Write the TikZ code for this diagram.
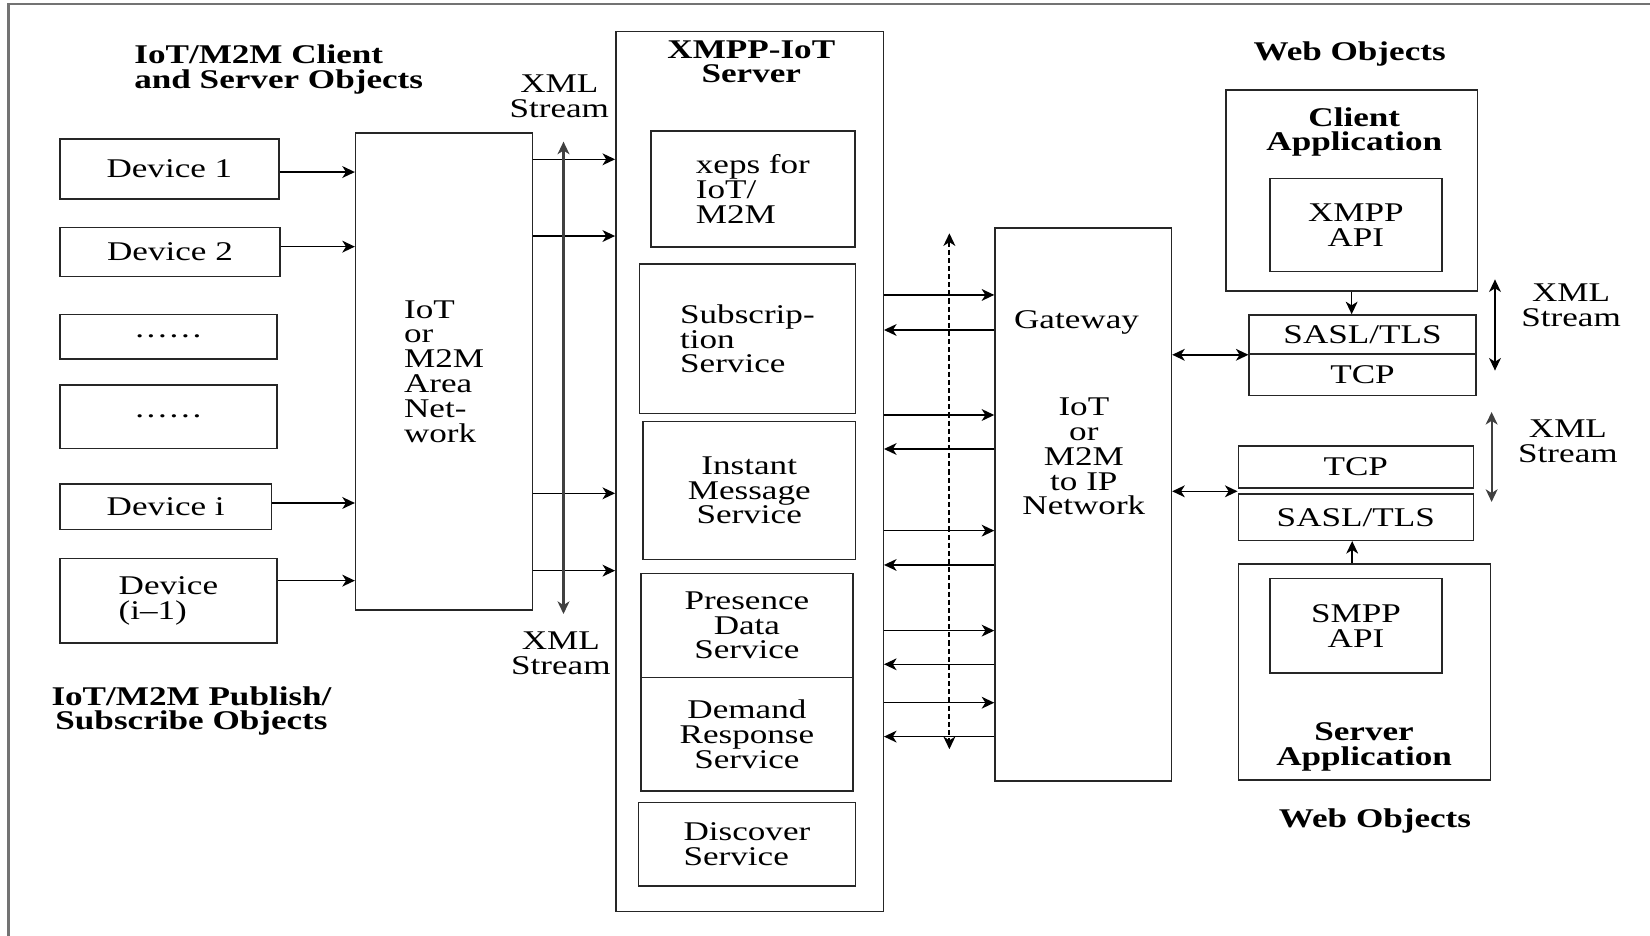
\documentclass[tikz,border=0pt]{standalone}
\usepackage{fontspec}
\setmainfont{Liberation Serif}[FakeStretch=1.3]
\usetikzlibrary{calc,arrows.meta}
\tikzstyle{box} = [rectangle, draw=black!85, inner sep=0pt, align=center, font=\fontsize{7.3}{6.7}\selectfont]
\tikzstyle{lbl} = [inner sep=0pt, align=center, font=\fontsize{7.3}{6.7}\selectfont]
\tikzstyle{head} = [inner sep=0pt, align=center, font=\fontsize{7.3}{6.7}\selectfont\bfseries]
\tikzstyle{arrow} = [->,>={Stealth[length=3.4pt,width=3.2pt,inset=1pt]}]
\tikzstyle{twoway} = [<->,>={Stealth[length=3.4pt,width=3.2pt,inset=1pt]}]
\newcommand{\sixdots}{.\kern.1em.\kern.1em.\kern.1em.\kern.1em.\kern.1em.}

\begin{document}
\begin{tikzpicture}[x=0.01cm, y=-0.01cm]
\useasboundingbox (0,0) rectangle (1568,889);
\draw [black!55, line width=0.6pt] (8,1000) -- (8,4) -- (1700,4);

% devices and area network
\node (hclient) [head, align=left, anchor=west] at (127,66) {IoT/M2M Client\\and Server Objects};
\node (hpubsub) [head] at (182,675.6) {IoT/M2M Publish/\\Subscribe Objects};
\node (dev1) [box, minimum width=2.08cm, minimum height=0.57cm] at (161,160.5) {Device 1};
\node (dev2) [box, minimum width=2.09cm, minimum height=0.47cm] at (161.5,239.5) {Device 2};
\node (dots1) [box, minimum width=2.06cm, minimum height=0.42cm] at (160,320) {\sixdots};
\node (dots2) [box, minimum width=2.06cm, minimum height=0.60cm] at (160,396) {\sixdots};
\node (devi) [box, minimum width=2.01cm, minimum height=0.43cm] at (157.5,481.5) {Device i};
\node (devim) [box, align=left, minimum width=2.06cm, minimum height=0.80cm] at (160,571) {Device\\(i--1)};
\node (area) [box, align=left, minimum width=1.68cm, minimum height=4.53cm] at (422,353) {IoT\\or\\M2M\\Area\\Net-\\work};
\draw [arrow] (dev1.east |- 0,163.5) -- (area.west |- 0,163.5);
\draw [arrow] (dev2.east |- 0,234.4) -- (area.west |- 0,234.4);
\draw [arrow] (devi.east |- 0,478) -- (area.west |- 0,478);
\draw [arrow] (devim.east |- 0,551.8) -- (area.west |- 0,551.8);

% xmpp server
\node (server) [box, minimum width=2.54cm, minimum height=8.36cm] at (712.3,448) {};
\node (hserver) [head] at (714,58.8) {XMPP-IoT\\Server};
\node (xeps) [box, align=left, minimum width=1.94cm, minimum height=1.10cm] at (715.5,179.5) {xeps for\\IoT/\\M2M};
\node (subs) [box, align=left, minimum width=2.05cm, minimum height=1.42cm] at (710.3,322) {Subscrip-\\tion\\Service};
\node (inst) [box, minimum width=2.02cm, minimum height=1.31cm] at (712,466) {Instant\\Message\\Service};
\node (pres) [box, minimum width=2.015cm, minimum height=0.99cm] at (709.8,594.3) {Presence\\Data\\Service};
\node (dmnd) [box, minimum width=2.015cm, minimum height=1.077cm] at (709.8,697.6) {Demand\\Response\\Service};
\node (disc) [box, align=left, minimum width=2.064cm, minimum height=0.795cm] at (709.8,802.3) {Discover\\Service};
\draw [arrow] (area.east |- 0,151.4) -- (server.west |- 0,151.4);
\draw [arrow] (area.east |- 0,224.3) -- (server.west |- 0,224.3);
\draw [arrow] (area.east |- 0,468.8) -- (server.west |- 0,468.8);
\draw [arrow] (area.east |- 0,542.3) -- (server.west |- 0,542.3);
\coordinate (xs1) at (535.5,134.6);
\coordinate (xs2) at (535.5,583.5);
\draw [twoway, black!75, line width=0.6pt] (xs1) -- (xs2);
\node (xml1) [lbl] at (531.5,91.4) {XML\\Stream};
\node (xml2) [lbl] at (533,620.9) {XML\\Stream};

% gateway
\node (gw) [box, minimum width=1.676cm, minimum height=5.25cm] at (1029.4,479.5) {};
\node (gwtxt) [lbl] at (1023,306) {Gateway};
\node (gwnet) [lbl] at (1030,434) {IoT\\or\\M2M\\to IP\\Network};
\draw [arrow] (server.east |- 0,280.3) -- (gw.west |- 0,280.3);
\draw [arrow] (gw.west |- 0,313.6) -- (server.east |- 0,313.6);
\draw [arrow] (server.east |- 0,394.4) -- (gw.west |- 0,394.4);
\draw [arrow] (gw.west |- 0,426.7) -- (server.east |- 0,426.7);
\draw [arrow] (server.east |- 0,504.3) -- (gw.west |- 0,504.3);
\draw [arrow] (gw.west |- 0,536.9) -- (server.east |- 0,536.9);
\draw [arrow] (server.east |- 0,599.3) -- (gw.west |- 0,599.3);
\draw [arrow] (gw.west |- 0,631.3) -- (server.east |- 0,631.3);
\draw [arrow] (server.east |- 0,667.8) -- (gw.west |- 0,667.8);
\draw [arrow] (gw.west |- 0,700) -- (server.east |- 0,700);
\coordinate (ds1) at (902.2,221.7);
\coordinate (ds2) at (902.2,712);
\draw [twoway, line width=0.55pt, dash pattern=on 1.4pt off 0.8pt] (ds1) -- (ds2);

% web objects
\node (hweb1) [head] at (1282.6,51.7) {Web Objects};
\node (capp) [box, minimum width=2.39cm, minimum height=1.91cm] at (1284.5,181) {};
\node (hcapp) [head] at (1287,125.5) {Client\\Application};
\node (xapi) [box, minimum width=1.635cm, minimum height=0.887cm] at (1288.5,213.8) {XMPP\\API};
\node (sasl1) [box, minimum width=2.152cm, minimum height=0.371cm] at (1294.8,317.9) {SASL/TLS};
\node (tcp1) [box, minimum width=2.152cm, minimum height=0.396cm] at (1294.8,356.2) {TCP};
\draw [arrow] (capp.south) -- (capp.south |- sasl1.north);
\draw [twoway] (gw.east |- sasl1.south) -- (sasl1.south west);
\coordinate (xr1) at (1420.7,265.5);
\coordinate (xr2) at (1420.7,352.2);
\draw [twoway] (xr1) -- (xr2);
\node (xml3) [lbl] at (1493,289.8) {XML\\Stream};

\node (tcp2) [box, minimum width=2.232cm, minimum height=0.396cm] at (1288.4,443.8) {TCP};
\node (sasl2) [box, minimum width=2.232cm, minimum height=0.439cm] at (1288.4,491.5) {SASL/TLS};
\node (sapp) [box, minimum width=2.398cm, minimum height=2.054cm] at (1296.7,638.7) {};
\node (sapi) [box, minimum width=1.634cm, minimum height=0.896cm] at (1288.6,594.6) {SMPP\\API};
\node (hsapp) [head] at (1296.3,710) {Server\\Application};
\node (hweb2) [head] at (1306.7,780.3) {Web Objects};
\draw [arrow] (sapp.north -| 1285,0) -- (sasl2.south -| 1285,0);
\draw [twoway] (gw.east |- 0,466.9) -- (tcp2.west |- 0,466.9);
\coordinate (xr3) at (1417.5,391.5);
\coordinate (xr4) at (1417.5,477);
\draw [twoway, black!75, line width=0.6pt] (xr3) -- (xr4);
\node (xml4) [lbl] at (1490,419.3) {XML\\Stream};

\end{tikzpicture}
\end{document}
